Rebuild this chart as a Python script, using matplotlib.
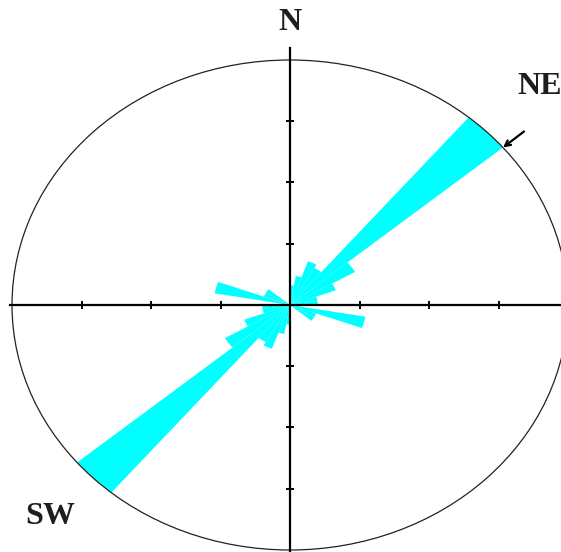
import numpy as np
import matplotlib
matplotlib.use("Agg")
import matplotlib.pyplot as plt
from matplotlib.patches import Wedge, Ellipse

# rose diagram of strike directions (axial data, 10 degree bins, 0-180 mirrored)
bin_start = [0, 10, 20, 30, 40, 50, 60, 70, 80, 90, 100, 110, 120, 130, 140, 150, 160, 170]
bin_radius = [0.08, 0.12, 0.19, 0.175, 1.0, 0.27, 0.175, 0.10, 0.10, 0.03,
              0.275, 0.10, 0.10, 0.0, 0.0, 0.0, 0.0, 0.0]
bin_width = 10
ring_ticks = [-0.75, -0.5, -0.25, 0.25, 0.5, 0.75]
labels = {"N": (0.517, 0.960), "NE": (0.923, 0.844), "SW": (0.0446, 0.065)}

fig = plt.figure(figsize=(5.61, 5.52), dpi=100)
ax = fig.add_axes([0, 0, 1, 1])
ax.set_xlim(-1.0432, 0.9748)
ax.set_ylim(-1.0082, 1.2449)

for a, r in zip(bin_start, bin_radius):
    if r <= 0:
        continue
    for off in (0, 180):
        az1 = a + off
        az2 = az1 + bin_width
        # azimuth is clockwise from north, Wedge wants ccw from +x
        ax.add_patch(Wedge((0, 0), r, 90 - az2, 90 - az1,
                           facecolor="#00ffff", edgecolor="none", zorder=1))

ax.add_patch(Ellipse((0, 0), 2, 2, fill=False, edgecolor="#222222",
                     linewidth=0.9, zorder=2))

# cross axes through the centre
for side in ("top", "right"):
    ax.spines[side].set_visible(False)
ax.spines["left"].set_position("zero")
ax.spines["bottom"].set_position("zero")
ax.spines["left"].set_bounds(-1.1, 1.05)
ax.spines["bottom"].set_bounds(-1.007, 1.0)
for side in ("left", "bottom"):
    ax.spines[side].set_linewidth(1.6)
    ax.spines[side].set_zorder(3)
ax.set_xticks(ring_ticks)
ax.set_yticks(ring_ticks)
ax.tick_params(direction="inout", length=6, width=1.4, labelleft=False,
               labelbottom=False)

font = dict(family="Liberation Serif", fontweight="bold", fontsize=23,
            color="#1e1e1e")
fig.text(*labels["N"], "N", ha="center", va="center", **font)
fig.text(*labels["NE"], "NE", ha="left", va="center", **font)
fig.text(*labels["SW"], "SW", ha="left", va="center", **font)

# arrow pointing at the tip of the dominant petal
peak = int(np.argmax(bin_radius))
tip_az = np.radians(bin_start[peak] + bin_width)
tip = (np.sin(tip_az) * bin_radius[peak], np.cos(tip_az) * bin_radius[peak])
ax.annotate("", xy=tip, xytext=(21, 16), textcoords="offset pixels",
            arrowprops=dict(arrowstyle="->", color="black", lw=1.6,
                            shrinkA=0, shrinkB=0, mutation_scale=10))

fig.savefig("out.png", dpi=100)
